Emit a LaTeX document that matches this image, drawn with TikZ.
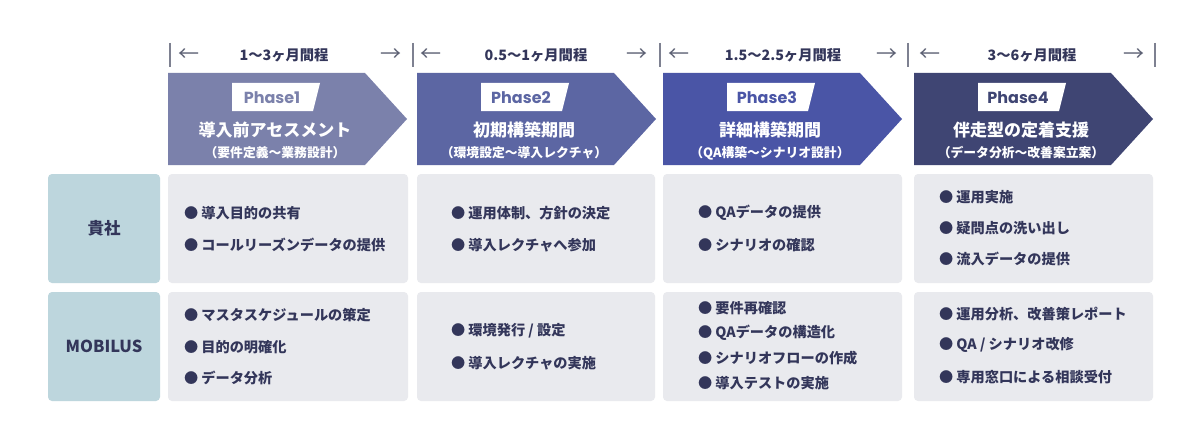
\documentclass[tikz,border=0pt]{standalone}
\usepackage{fontspec}
\setmainfont{Noto Sans CJK JP}
\newfontfamily\pop{Poppins}
\newcommand\itembul{●\hspace{3pt}}
\definecolor{phA}{HTML}{7B81AB}
\definecolor{phB}{HTML}{5C66A3}
\definecolor{phC}{HTML}{4A55A6}
\definecolor{phD}{HTML}{3F4573}
\definecolor{cellgray}{HTML}{E9EAEE}
\definecolor{labelteal}{HTML}{BDD6DD}
\definecolor{ink}{HTML}{33365A}
\definecolor{hdrgray}{HTML}{5E6275}
\tikzset{
  cellbox/.style={fill=cellgray, rounded corners=4pt},
  labelbox/.style={fill=labelteal, rounded corners=4pt},
  item/.style={anchor=west, inner sep=0pt, text=ink, font=\bfseries\fontsize{14.2}{16}\selectfont},
  rowlabel/.style={inner sep=0pt, text=ink, font=\bfseries\fontsize{16.5}{18}\selectfont},
  hdrtext/.style={inner sep=0pt, text=ink, font=\bfseries\fontsize{14.3}{16}\selectfont},
  hdrarrow/.style={inner sep=0pt, text=hdrgray, font=\fontsize{21}{22}\selectfont},
  hdrbar/.style={draw=hdrgray!80, line width=1.1pt},
  ttl/.style={inner sep=0pt, text=white, font=\bfseries\fontsize{17}{19}\selectfont},
  subttl/.style={inner sep=0pt, text=white, font=\bfseries\fontsize{12.8}{14}\selectfont},
  phlabel/.style={inner sep=0pt, font=\pop\bfseries\fontsize{16}{17}\selectfont},
}
\begin{document}
\begin{tikzpicture}[x=1pt,y=-1pt]
\useasboundingbox (0,0) rectangle (1200,436);
\fill[white] (0,0) rectangle (1200,436);

% ---------- header: durations ----------
\foreach \bx/\nm in {170/b0,413/b1,660/b2,908/b3,1155/b4}{
  \coordinate (\nm t) at (\bx,43);
  \coordinate (\nm b) at (\bx,67);
  \draw[hdrbar] (\nm t) -- (\nm b);
}
\node[hdrarrow] (la1) at (189,55) {←};
\node[hdrarrow] (ra1) at (391,55) {→};
\node[hdrtext] (d1) at (284,55) {1〜3ヶ月間程};
\node[hdrarrow] (la2) at (431,55) {←};
\node[hdrarrow] (ra2) at (637,55) {→};
\node[hdrtext] (d2) at (536,55) {0.5〜1ヶ月間程};
\node[hdrarrow] (la3) at (679,55) {←};
\node[hdrarrow] (ra3) at (887,55) {→};
\node[hdrtext] (d3) at (783,55) {1.5〜2.5ヶ月間程};
\node[hdrarrow] (la4) at (930,55) {←};
\node[hdrarrow] (ra4) at (1134,55) {→};
\node[hdrtext] (d4) at (1032,55) {3〜6ヶ月間程};

% ---------- phase arrows ----------
\foreach \L/\col/\n/\t/\s in {
  168/phA/1/導入前アセスメント/（要件定義〜業務設計）,
  417/phB/2/初期構築期間/（環境設定〜導入レクチャ）,
  663/phC/3/詳細構築期間/（QA構築〜シナリオ設計）,
  914/phD/4/伴走型の定着支援/（データ分析〜改善案立案）}{
  \fill[\col] (\L,73) -- ({\L+197},73) -- ({\L+239},119) -- ({\L+197},165) -- (\L,165) -- cycle;
  \fill[white] ({\L+64},83) -- ({\L+152},83) -- ({\L+145},111) -- ({\L+64},111) -- cycle;
  \node[phlabel, text=\col] (ph\n) at ({\L+104},97.5) {Phase\n};
  \node[ttl] (pt\n) at ({\L+107},130) {\t};
  \node[subttl] (ps\n) at ({\L+107},153) {\s};
}

% ---------- row labels ----------
\fill[labelbox] (48,174) rectangle (160,283);
\fill[labelbox] (48,292) rectangle (160,401);
\node[rowlabel] (r1) at (104,228.5) {貴社};
\node[rowlabel] (r2) at (104,346.5) {MOBILUS};

% ---------- cells ----------
\foreach \xa/\xb in {168/408,417/655,663/902,914/1153}{
  \fill[cellbox] (\xa,174) rectangle (\xb,283);
  \fill[cellbox] (\xa,292) rectangle (\xb,401);
}

% column 1
\node[item] (a1) at (184,213) {\itembul 導入目的の共有};
\node[item] (a2) at (184,245) {\itembul コールリーズンデータの提供};
\node[item] (a3) at (184,315) {\itembul マスタスケジュールの策定};
\node[item] (a4) at (184,347) {\itembul 目的の明確化};
\node[item] (a5) at (184,378) {\itembul データ分析};
% column 2
\node[item] (b1) at (451,213) {\itembul 運用体制、方針の決定};
\node[item] (b2) at (451,245) {\itembul 導入レクチャへ参加};
\node[item] (b3) at (451,331) {\itembul 環境発行 / 設定};
\node[item] (b4) at (451,363) {\itembul 導入レクチャの実施};
% column 3
\node[item] (c1) at (698,213) {\itembul QAデータの提供};
\node[item] (c2) at (698,245) {\itembul シナリオの確認};
\node[item] (c3) at (698,308) {\itembul 要件再確認};
\node[item] (c4) at (698,333) {\itembul QAデータの構造化};
\node[item] (c5) at (698,358) {\itembul シナリオフローの作成};
\node[item] (c6) at (698,383) {\itembul 導入テストの実施};
% column 4
\node[item] (e1) at (939,197) {\itembul 運用実施};
\node[item] (e2) at (939,228) {\itembul 疑問点の洗い出し};
\node[item] (e3) at (939,259) {\itembul 流入データの提供};
\node[item] (e4) at (939,314) {\itembul 運用分析、改善策レポート};
\node[item] (e5) at (939,345) {\itembul QA / シナリオ改修};
\node[item] (e6) at (939,377) {\itembul 専用窓口による相談受付};
\end{tikzpicture}
\end{document}
